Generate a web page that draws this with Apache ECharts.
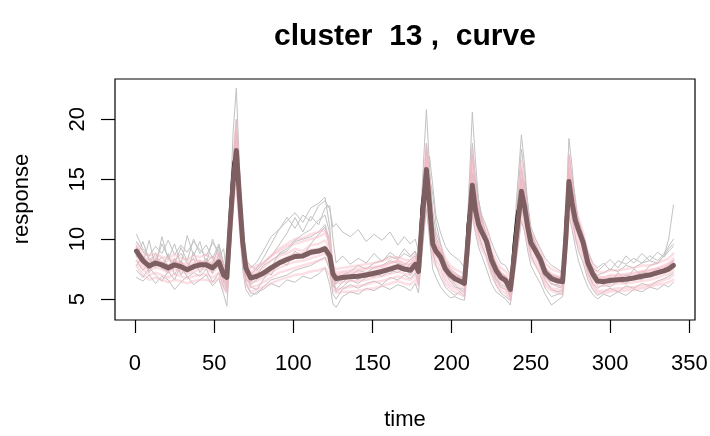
<!DOCTYPE html>
<html><head><meta charset="utf-8">
<script src="https://cdn.jsdelivr.net/npm/echarts@6/dist/echarts.min.js"></script>
<style>html,body{margin:0;padding:0;background:#fff}#c{width:710px;height:436px}</style>
</head><body><div id="c"></div>
<script>
const titleText = "cluster  13 ,  curve";
const xName = "time";
const yName = "response";
const xTicks = [0, 50, 100, 150, 200, 250, 300, 350];
const yTicks = [5, 10, 15, 20];
const time = [1,5,9,13,17,21,25,29,33,37, 41,45,49,53,56,58,60,62,64,66, 68,70,73,77,81,86,91,96,101,106,
 111,116,120,123,125,127,131,136,141,146, 151,156,161,166,170,174,177,179,181,184, 186,188,190,193,196,199,202,205,208,210,
 213,215,217,219,222,225,228,231,234,237, 239,241,244,246,248,250,253,256,259,263, 267,270,272,274,276,278,280,283,286,289,
 292,296,300,305,310,315,320,325,330,334, 337,340];
const meanCurve = [9.0,8.2,7.75,8.0,7.85,7.6,7.85,7.7,7.45,7.7, 7.85,7.85,7.6,8.1,7.0,6.8,11.0,14.8,17.4,13.5,
 9.8,7.6,6.75,6.9,7.15,7.6,8.0,8.3,8.55,8.6, 8.9,9.0,9.2,8.6,7.1,6.7,6.8,6.85,6.9,7.0,
 7.15,7.3,7.5,7.7,7.5,7.4,7.9,7.3,11.0,15.8, 12.8,9.6,9.0,8.5,7.5,7.0,6.7,6.5,6.3,9.5,
 14.5,12.4,11.2,10.6,9.8,8.3,7.4,6.8,6.55,5.8, 8.0,10.5,14.0,12.7,11.0,9.7,9.0,8.3,7.2,6.7,
 6.5,6.45,10.0,14.8,13.0,11.6,10.8,9.7,8.0,7.1, 6.5,6.45,6.55,6.6,6.65,6.75,6.9,7.0,7.2,7.35, 7.5,7.8];
const centerCurve = [9.0,8.2,7.75,8.0,7.85,7.6,7.85,7.7,7.45,7.7, 7.85,7.85,7.6,8.1,7.0,7.3,12.6,16.3,17.4,13.5,
 9.8,7.6,6.75,6.9,7.15,7.6,8.0,8.3,8.55,8.6, 8.9,9.0,9.2,8.6,7.1,6.7,6.8,6.85,6.9,7.0,
 7.15,7.3,7.5,7.7,7.5,7.4,7.9,8.0,12.8,15.8, 12.8,9.6,9.0,8.5,7.5,7.0,6.7,6.5,6.3,11.2,
 14.5,12.4,11.2,10.6,9.8,8.3,7.4,6.8,6.55,5.8, 9.5,12.0,14.0,12.7,11.0,9.7,9.0,8.3,7.2,6.7,
 6.5,6.45,11.8,14.8,13.0,11.6,10.8,9.7,8.0,7.1, 6.5,6.45,6.55,6.6,6.65,6.75,6.9,7.0,7.2,7.35, 7.5,7.8];

const gray1 = [10.4,9.2,8.6,9.4,8.8,9.9,8.7,9.5,8.9,9.8, 9.1,8.6,9.7,9.0,7.2,6.0,12.5,19.0,22.6,16.0,
 10.5,7.8,7.0,7.6,8.4,9.6,10.8,11.5,12.2,11.4, 12.6,13.0,13.5,11.0,6.8,6.3,7.0,7.3,7.8,7.5,
 8.0,8.2,8.6,8.3,8.8,8.5,9.0,7.8,13.5,20.8, 16.0,11.5,10.2,9.0,8.0,7.4,7.0,6.8,6.6,11.5,
 20.6,16.5,13.2,11.8,10.2,8.6,7.6,7.0,6.8,6.2, 9.5,13.5,18.7,16.2,12.8,10.5,9.3,8.6,7.6,7.0,
 6.8,6.6,11.5,18.4,16.0,13.0,11.5,10.0,8.2,7.3, 7.0,7.2,7.5,7.3,7.8,7.6,8.0,8.2,8.0,8.6, 9.2,9.6];
const gray2 = [8.5,9.8,8.2,8.0,9.6,8.5,7.9,9.3,8.2,10.0, 8.8,9.5,8.4,9.6,8.0,7.2,10.5,14.0,16.5,12.8,
 9.0,8.0,7.6,8.1,9.0,10.2,10.8,11.8,10.9,12.0, 11.5,12.8,13.2,12.5,11.0,11.3,10.6,10.2,10.8,9.8,
 10.4,9.9,10.6,9.5,10.2,9.6,10.0,9.0,12.0,16.5, 16.9,14.5,12.0,10.5,9.4,8.8,8.5,8.2,7.6,10.0,
 15.5,14.8,13.2,12.0,11.0,9.8,8.8,8.0,7.8,7.0, 8.8,11.0,15.0,14.6,13.0,11.0,10.0,9.2,8.4,7.8,
 7.5,7.2,10.5,15.2,14.8,12.8,11.5,10.4,9.0,8.0, 7.6,8.0,7.4,8.2,7.9,8.4,8.0,8.6,8.2,8.8, 9.4,10.0];
const gray3 = [6.8,6.5,7.0,6.3,6.9,6.6,5.8,6.4,6.9,6.2, 6.6,7.0,6.1,6.7,5.4,4.4,8.5,13.0,15.5,11.5,
 7.5,5.8,5.2,5.6,5.8,6.3,6.0,6.6,6.4,6.9, 6.7,7.1,7.6,6.2,4.6,4.3,5.2,5.6,5.4,5.9,
 5.7,6.1,5.8,6.2,6.0,5.7,6.3,5.5,8.5,12.5, 10.0,7.5,6.8,6.0,5.5,5.1,5.2,5.0,4.9,7.5,
 12.0,10.5,9.3,8.6,7.5,6.3,5.6,5.3,5.0,4.5, 6.5,8.5,11.5,10.6,9.0,7.8,7.0,6.3,5.4,4.5,
 4.9,5.2,8.0,12.0,10.8,9.4,8.2,7.0,6.0,5.4, 5.0,5.4,5.2,5.6,5.3,5.8,5.6,6.0,5.8,6.2, 6.0,6.4];
const gray4 = [7.8,8.6,7.2,8.4,7.5,8.8,7.0,8.2,7.4,8.9, 7.6,8.4,7.1,8.8,6.4,5.8,9.8,15.0,19.0,14.0,
 9.2,6.8,6.2,6.6,7.4,7.0,8.2,7.8,9.0,8.5, 9.6,10.4,11.0,9.2,6.2,5.8,6.4,6.9,6.6,7.2,
 6.8,7.5,7.1,7.9,7.3,8.0,7.6,7.0,10.5,17.5, 14.8,10.4,8.8,8.0,7.2,6.5,6.0,5.9,5.8,9.0,
 17.0,14.5,11.8,10.6,9.4,8.0,6.8,6.2,6.0,5.5, 7.8,10.0,15.8,14.2,11.5,9.8,8.6,7.8,6.9,6.3,
 6.0,5.9,9.5,16.0,14.0,11.6,10.4,9.2,7.5,6.7, 6.2,6.8,6.3,7.2,6.6,7.5,7.0,7.8,8.0,8.6, 10.0,12.85];
const gray5 = [9.4,8.0,9.9,7.6,10.2,8.3,9.6,7.8,10.3,8.6, 9.8,7.9,10.0,8.5,9.2,7.0,11.5,16.5,20.0,15.0,
 10.5,8.2,7.8,7.4,8.0,8.6,9.5,10.5,11.8,10.6, 11.9,11.2,12.6,12.8,10.0,8.0,8.6,7.9,8.4,8.0,
 8.8,8.1,8.9,8.4,9.2,8.6,9.0,8.2,11.5,18.0, 15.5,12.4,10.6,9.5,8.2,7.6,7.2,6.9,6.7,10.5,
 18.0,15.0,13.0,11.5,10.4,9.0,7.9,7.2,6.9,6.4, 9.0,12.2,17.5,15.4,12.4,10.6,9.6,8.6,7.6,7.0,
 6.8,6.7,10.8,17.0,15.2,12.8,11.6,10.2,8.4,7.6, 7.3,7.8,8.3,7.6,8.6,8.0,8.8,8.2,8.9,8.5, 9.0,9.4];
const gray6 = [7.4,6.8,7.6,7.0,6.5,7.3,6.6,7.8,6.8,7.2, 6.9,7.5,6.4,7.2,6.0,5.6,9.0,13.8,16.0,12.0,
 8.2,6.4,5.5,5.4,6.0,6.6,6.8,7.0,7.4,7.6, 7.8,8.2,8.5,7.4,5.4,5.0,5.8,6.2,5.9,6.3,
 6.5,6.2,6.8,6.6,7.0,6.7,7.2,6.2,9.5,14.5, 12.5,9.0,7.8,6.8,6.0,5.6,5.3,5.6,5.2,8.0,
 13.0,12.0,10.4,9.5,8.5,7.2,6.2,5.5,5.2,4.9, 7.0,9.0,12.5,11.8,10.0,8.6,7.8,7.0,5.9,5.2,
 5.4,5.5,8.8,13.0,12.0,10.2,9.0,8.0,6.6,5.8, 5.3,5.6,5.9,5.6,6.1,5.9,6.3,6.1,6.5,6.7, 6.9,7.2];
const gray7 = [8.2,7.4,8.0,8.8,7.6,7.2,8.4,7.0,7.8,8.4, 7.2,8.0,8.6,7.5,6.6,6.2,8.8,12.8,16.8,15.5,
 11.5,8.4,6.0,5.8,6.6,7.6,8.8,9.2,9.9,10.4, 10.8,11.6,12.0,10.5,7.0,5.6,6.0,6.6,6.3,6.8,
 7.1,6.9,7.4,7.2,7.6,7.0,7.8,6.6,9.2,13.8, 15.2,13.8,11.4,9.6,8.0,6.9,6.2,5.8,5.6,7.8,
 13.5,15.0,13.2,11.0,9.2,7.6,6.6,6.0,5.8,5.4, 6.8,9.2,13.0,14.8,13.0,10.2,8.8,7.6,6.6,5.8,
 5.6,5.7,8.2,13.5,15.2,13.5,11.2,9.0,7.2,6.3, 5.9,6.2,6.0,6.5,6.3,6.9,6.6,7.2,7.0,7.6, 7.8,8.2];
const gray8 = [9.8,9.0,8.4,8.0,8.5,7.8,8.2,8.8,8.0,7.5, 8.2,7.6,8.0,9.4,7.8,6.6,10.8,16.0,18.5,13.8,
 9.0,6.6,6.4,7.0,7.8,8.2,8.7,9.0,9.8,10.0, 10.2,10.6,11.2,9.8,6.0,6.4,6.6,7.0,7.4,7.2,
 7.6,7.8,8.2,8.0,7.8,8.3,8.6,7.6,10.8,15.0, 13.0,10.8,9.6,8.8,7.6,7.0,6.6,6.4,6.1,9.2,
 15.5,13.5,12.4,11.2,10.0,8.4,7.4,6.6,6.3,5.2, 8.5,11.0,15.0,13.0,11.5,9.8,8.8,8.0,7.0,6.2,
 6.2,6.0,10.2,15.5,13.8,11.8,11.0,9.6,7.8,6.8, 6.4,6.5,6.8,6.6,7.0,6.8,7.3,7.1,7.6,7.4, 7.8,8.2];

const pink1 = [9.6,8.9,8.6,8.8,8.5,8.4,8.7,8.4,8.3,8.6, 8.5,8.7,8.3,8.9,7.8,7.4,12.0,16.5,19.8,14.8,
 10.5,8.3,7.6,7.8,8.0,8.6,9.0,9.4,9.6,9.8, 10.0,10.2,10.5,9.8,7.8,7.5,7.6,7.7,7.8,7.9,
 8.0,8.2,8.4,8.5,8.3,8.2,8.7,8.0,12.2,17.8, 14.5,11.0,10.0,9.4,8.4,7.8,7.5,7.3,7.1,10.8,
 17.0,14.0,12.5,11.6,10.8,9.2,8.2,7.6,7.3,6.8, 9.0,11.8,16.5,14.2,12.2,10.6,9.8,9.0,8.0,7.5,
 7.3,7.2,11.0,17.0,14.5,12.8,11.8,10.5,8.8,7.9, 7.3,7.2,7.4,7.4,7.5,7.6,7.8,7.8,8.0,8.2, 8.4,8.8];
const pink2 = [8.2,7.5,7.0,7.2,7.0,6.8,7.1,6.9,6.7,6.9, 7.0,7.1,6.8,7.2,6.2,5.9,10.0,13.5,15.5,12.0,
 8.8,6.8,6.0,6.1,6.4,6.8,7.2,7.4,7.6,7.8, 8.0,8.2,8.4,7.8,6.2,5.8,5.9,6.0,6.1,6.2,
 6.4,6.5,6.7,6.9,6.7,6.6,7.0,6.5,10.0,14.0, 11.5,8.8,8.2,7.7,6.7,6.2,5.9,5.7,5.5,8.6,
 13.0,11.2,10.2,9.6,8.9,7.5,6.6,6.0,5.8,5.1, 7.2,9.5,12.6,11.6,10.0,8.8,8.2,7.5,6.4,5.9,
 5.8,5.7,9.0,13.2,11.8,10.5,9.8,8.8,7.2,6.3, 5.7,5.7,5.8,5.9,5.9,6.0,6.1,6.2,6.4,6.6, 6.7,7.0];
const pink3 = [9.3,8.4,8.3,8.5,8.1,8.2,8.3,7.9,8.0,8.3, 8.2,8.0,8.1,8.6,7.4,7.0,11.5,16.0,19.0,14.5,
 10.2,7.8,7.1,7.3,7.6,8.2,8.6,8.8,9.2,9.0, 9.5,9.6,9.9,9.2,7.4,7.0,7.2,7.2,7.3,7.5,
 7.6,7.7,8.0,8.2,7.9,7.8,8.3,7.6,11.5,16.8, 13.8,10.4,9.6,9.0,8.0,7.4,7.1,6.9,6.7,10.0,
 15.8,13.2,11.8,11.0,10.3,8.8,7.8,7.2,6.9,6.3, 8.5,11.0,15.0,13.4,11.6,10.2,9.4,8.6,7.6,7.1,
 6.9,6.8,10.5,15.8,13.8,12.2,11.2,10.1,8.4,7.5, 6.9,6.8,7.0,7.0,7.1,7.2,7.3,7.4,7.6,7.8, 8.0,8.4];
const pink4 = [8.6,7.8,7.4,7.6,7.5,7.2,7.5,7.3,7.1,7.3, 7.5,7.5,7.2,7.7,6.6,6.3,10.4,14.0,16.4,12.8,
 9.3,7.2,6.4,6.5,6.8,7.2,7.6,7.9,8.1,8.2, 8.4,8.6,8.8,8.2,6.7,6.3,6.4,6.5,6.5,6.6,
 6.8,6.9,7.1,7.3,7.1,7.0,7.5,6.9,10.5,14.8, 12.2,9.2,8.6,8.1,7.1,6.6,6.3,6.1,5.9,9.0,
 13.8,11.8,10.7,10.1,9.3,7.9,7.0,6.4,6.2,5.4, 7.6,10.0,13.2,12.1,10.5,9.2,8.6,7.9,6.8,6.3,
 6.1,6.1,9.5,14.0,12.4,11.0,10.3,9.2,7.6,6.7, 6.1,6.1,6.2,6.3,6.3,6.4,6.5,6.6,6.8,7.0, 7.1,7.4];
const pink5 = [9.0,8.6,7.9,8.3,8.0,7.8,8.1,8.0,7.7,8.0, 8.1,8.1,7.9,8.3,7.3,6.9,11.2,15.2,18.2,14.0,
 10.0,7.9,7.2,7.6,8.0,8.6,9.2,9.6,10.0,10.1, 10.4,10.6,10.8,10.0,7.6,7.2,7.3,7.4,7.5,7.6,
 7.7,7.8,8.0,8.2,8.0,7.9,8.4,7.8,11.4,16.5, 13.6,10.2,9.5,9.0,7.9,7.3,7.0,6.8,6.6,9.8,
 15.2,13.0,11.8,11.1,10.2,8.7,7.8,7.1,6.9,6.1, 8.3,10.9,14.8,13.3,11.5,10.1,9.3,8.6,7.5,7.0,
 6.8,6.8,10.4,15.6,13.6,12.1,11.2,10.1,8.3,7.4, 6.8,6.8,6.9,6.9,7.0,7.1,7.3,7.4,7.5,7.7, 7.9,8.2];
const pink6 = [7.8,7.0,6.6,6.8,6.6,6.4,6.6,6.5,6.3,6.5, 6.6,6.6,6.4,6.8,5.8,5.5,9.5,12.8,14.6,11.2,
 8.2,6.3,5.6,5.8,6.0,6.3,6.6,6.8,7.0,7.1, 7.3,7.4,7.6,7.0,5.8,5.5,5.6,5.6,5.7,5.8,
 5.9,6.1,6.3,6.5,6.3,6.2,6.6,6.1,9.4,13.2, 10.8,8.4,7.8,7.3,6.3,5.9,5.6,5.4,5.2,8.2,
 12.4,10.8,9.8,9.2,8.4,7.1,6.2,5.7,5.5,4.9, 6.8,9.0,12.0,11.0,9.6,8.4,7.8,7.1,6.1,5.7,
 5.5,5.4,8.6,12.6,11.4,10.0,9.4,8.4,6.9,6.0, 5.5,5.5,5.6,5.7,5.7,5.8,5.9,6.0,6.2,6.3, 6.4,6.6];
const pink7 = [8.8,8.0,7.6,7.9,7.7,7.4,7.7,7.5,7.3,7.6, 7.7,7.7,7.5,7.9,6.9,6.7,10.2,14.2,17.0,14.2,
 10.6,8.0,6.9,7.0,7.2,7.5,7.9,8.2,8.4,8.5, 8.7,8.9,9.0,8.5,7.0,6.6,6.7,6.8,6.8,6.9,
 7.0,7.2,7.4,7.6,7.4,7.3,7.8,7.2,10.5,17.5, 14.8,10.8,9.6,8.8,7.7,7.1,6.7,6.5,6.3,9.2,
 17.5,14.0,12.2,11.2,10.1,8.5,7.5,6.9,6.6,5.9, 7.6,10.0,16.0,13.8,11.6,10.0,9.2,8.4,7.3,6.8,
 6.5,6.4,9.6,17.0,14.4,12.2,11.0,9.9,8.1,7.2, 6.6,6.5,6.6,6.7,6.7,6.8,6.9,7.0,7.2,7.3, 7.5,7.8];
const pink8 = [9.1,8.3,7.9,8.2,8.0,7.8,8.0,7.9,7.6,7.9, 8.0,8.0,7.8,8.3,7.2,7.0,10.8,14.0,16.2,13.0,
 9.6,7.7,6.9,7.1,7.3,7.8,8.2,8.5,8.8,8.8, 9.1,9.2,9.4,8.8,7.2,6.9,7.0,7.0,7.1,7.2,
 7.3,7.5,7.7,7.9,7.7,7.6,8.1,7.5,10.8,14.8, 12.2,9.8,9.2,8.7,7.7,7.2,6.9,6.7,6.5,9.3,
 13.6,11.9,11.0,10.5,9.8,8.4,7.6,7.0,6.8,6.1, 8.0,10.2,13.2,12.2,10.8,9.7,9.1,8.4,7.4,6.9,
 6.7,6.6,9.8,14.0,12.6,11.5,10.8,9.8,8.1,7.3, 6.7,6.6,6.7,6.8,6.8,6.9,7.1,7.2,7.4,7.5, 7.7,8.0];

const grayCurves = [gray1, gray2, gray3, gray4, gray5, gray6, gray7, gray8];
const pinkCurves = [pink1, pink2, pink3, pink4, pink5, pink6, pink7, pink8];

const pairs = arr => time.map((t, i) => [t, arr[i]]);
const line = (arr, color, width) => ({
  type: 'line', data: pairs(arr), showSymbol: false, symbol: 'none', silent: true,
  lineStyle: { color: color, width: width, join: 'round', cap: 'round' }, z: 2
});

const series = [];
grayCurves.forEach(c => series.push(line(c, '#c2c2c2', 1)));
pinkCurves.forEach(c => series.push(line(c, 'rgba(246,185,198,0.45)', 2.5)));
series.push(line(centerCurve, '#000000', 2));
series.push(line(meanCurve, '#7d5f62', 5));

const FONT = 'Liberation Sans, Arial, sans-serif';
const chart = echarts.init(document.getElementById('c'), null, { renderer: 'canvas' });
chart.setOption({
  animation: false,
  backgroundColor: '#ffffff',
  grid: { left: 115, right: 15, top: 79, bottom: 116, show: true, borderColor: '#000', borderWidth: 1.2,
          backgroundColor: 'transparent', containLabel: false, outerBoundsMode: 'none' },
  xAxis: {
    type: 'value', min: -12.6, max: 353.6,
    axisLine: { show: false, onZero: false },
    splitLine: { show: false },
    axisTick: { show: true, inside: false, length: 13, customValues: xTicks, lineStyle: { color: '#000', width: 1.2 } },
    axisLabel: { show: true, customValues: xTicks, margin: 33, fontSize: 22, color: '#000', fontFamily: FONT,
                 showMinLabel: true, showMaxLabel: true }
  },
  yAxis: {
    type: 'value', min: 3.25, max: 23.36,
    axisLine: { show: false, onZero: false },
    splitLine: { show: false },
    axisTick: { show: true, inside: false, length: 14, customValues: yTicks, lineStyle: { color: '#000', width: 1.2 } },
    axisLabel: { show: true, customValues: yTicks, rotate: 90, margin: 26, fontSize: 22, color: '#000', fontFamily: FONT }
  },
  graphic: [
    { type: 'text', x: 405, y: 37, style: { text: titleText, font: 'bold 30px ' + FONT, fill: '#000', align: 'center', verticalAlign: 'middle' } },
    { type: 'text', x: 405, y: 420, style: { text: xName, font: '22px ' + FONT, fill: '#000', align: 'center', verticalAlign: 'middle' } },
    { type: 'text', x: 22, y: 199, rotation: Math.PI / 2, style: { text: yName, font: '22px ' + FONT, fill: '#000', align: 'center', verticalAlign: 'middle' } }
  ],
  series: series
});
</script>
</body></html>
